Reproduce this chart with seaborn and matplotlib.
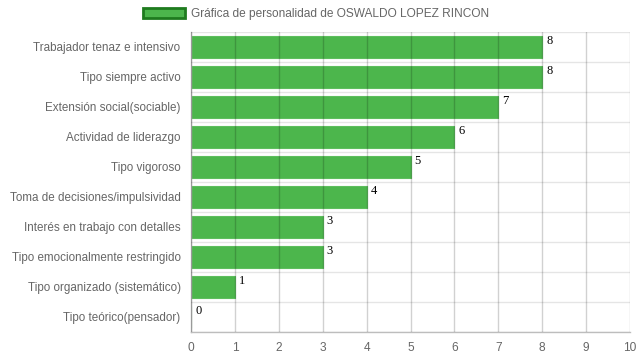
import matplotlib
matplotlib.use("Agg")
import matplotlib.pyplot as plt
import seaborn as sns
import numpy as np
from matplotlib.patches import Patch

# datos de la gráfica
categorias = [
    "Trabajador tenaz e intensivo",
    "Tipo siempre activo",
    "Extensión social(sociable)",
    "Actividad de liderazgo",
    "Tipo vigoroso",
    "Toma de decisiones/impulsividad",
    "Interés en trabajo con detalles",
    "Tipo emocionalmente restringido",
    "Tipo organizado (sistemático)",
    "Tipo teórico(pensador)",
]
valores = [8, 8, 7, 6, 5, 4, 3, 3, 1, 0]
titulo = "Gráfica de personalidad de OSWALDO LOPEZ RINCON"

sns.set_style("white")
plt.rcParams["font.family"] = ["Liberation Sans", "DejaVu Sans"]

fig = plt.figure(figsize=(6.39, 3.6), dpi=100)
ax = fig.add_axes([191 / 639, 1 - 332 / 360, 439 / 639, 300 / 360])

sns.barplot(x=valores, y=categorias, orient="h", color="#4CB64C",
            saturation=1, width=0.72, edgecolor="#5DBE5D", linewidth=0.8, ax=ax)

ax.set_xlim(0, 10)
ax.set_ylim(len(categorias) - 0.5, -0.5)
ax.set_xticks(np.arange(0, 11, 1))
ax.set_yticks(np.arange(len(categorias)))
ax.set_yticks(np.arange(len(categorias) + 1) - 0.5, minor=True)
ax.set_xlabel("")
ax.set_ylabel("")

# rejilla estilo Chart.js
ax.set_axisbelow(False)
ax.grid(axis="x", which="major", color="black", alpha=0.18, linewidth=1)
ax.grid(axis="y", which="minor", color="black", alpha=0.1, linewidth=1)
ax.grid(axis="y", which="major", visible=False)

for s in ["top", "right"]:
    ax.spines[s].set_visible(False)
for s in ["left", "bottom"]:
    ax.spines[s].set_color("#bdbdbd")
    ax.spines[s].set_linewidth(1)

ax.tick_params(axis="x", which="major", length=4.5, width=1, color="#cccccc",
               pad=2.5, labelsize=8.6, labelcolor="#666666")
ax.tick_params(axis="y", which="major", length=0, pad=7.5,
               labelsize=8.4, labelcolor="#666666")
ax.tick_params(axis="y", which="minor", length=7.5, width=1, color="#e6e6e6")

# etiquetas de valor
for i, v in enumerate(valores):
    ax.annotate(str(v), xy=(v, i - 0.36), xytext=(3, 1), textcoords="offset points",
                ha="left", va="top", fontsize=9, family="Liberation Serif",
                color="black")

# leyenda
handle = Patch(facecolor="#4CB64C", edgecolor="#1E7B1E", linewidth=2)
fig.legend([handle], [titulo], loc="center", bbox_to_anchor=(316 / 639, 1 - 14 / 360),
           frameon=False, fontsize=8.6, labelcolor="#666666",
           handlelength=3.5, handleheight=1.0, handletextpad=0.5)

fig.savefig("out.png", dpi=100)
